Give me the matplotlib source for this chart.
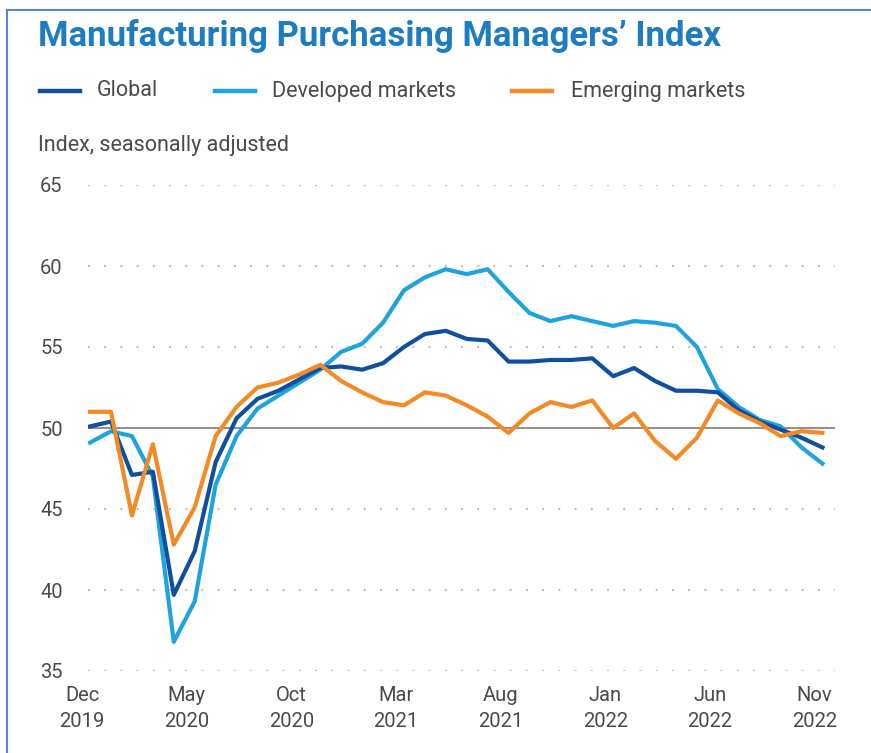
import matplotlib
matplotlib.use("Agg")
import matplotlib.pyplot as plt
from matplotlib.lines import Line2D
import matplotlib.transforms as mtransforms
import numpy as np

# ---------------- data ----------------
months = ["Dec 2019", "Jan 2020", "Feb 2020", "Mar 2020", "Apr 2020", "May 2020", "Jun 2020",
          "Jul 2020", "Aug 2020", "Sep 2020", "Oct 2020", "Nov 2020", "Dec 2020",
          "Jan 2021", "Feb 2021", "Mar 2021", "Apr 2021", "May 2021", "Jun 2021",
          "Jul 2021", "Aug 2021", "Sep 2021", "Oct 2021", "Nov 2021", "Dec 2021",
          "Jan 2022", "Feb 2022", "Mar 2022", "Apr 2022", "May 2022", "Jun 2022",
          "Jul 2022", "Aug 2022", "Sep 2022", "Oct 2022", "Nov 2022"]

global_pmi = [50.1, 50.4, 47.1, 47.3, 39.7, 42.4, 47.9, 50.6, 51.8, 52.3, 53.0, 53.7, 53.8,
              53.6, 54.0, 55.0, 55.8, 56.0, 55.5, 55.4, 54.1, 54.1, 54.2, 54.2, 54.3,
              53.2, 53.7, 52.9, 52.3, 52.3, 52.2, 51.1, 50.4, 49.9, 49.4, 48.8]

developed = [49.1, 49.8, 49.5, 47.0, 36.8, 39.3, 46.5, 49.5, 51.2, 52.0, 52.8, 53.6, 54.7,
             55.2, 56.5, 58.5, 59.3, 59.8, 59.5, 59.8, 58.4, 57.1, 56.6, 56.9, 56.6,
             56.3, 56.6, 56.5, 56.3, 55.0, 52.4, 51.3, 50.5, 50.1, 48.8, 47.8]

emerging = [51.0, 51.0, 44.6, 49.0, 42.8, 45.1, 49.5, 51.3, 52.5, 52.8, 53.3, 53.9, 52.9,
            52.2, 51.6, 51.4, 52.2, 52.0, 51.4, 50.7, 49.7, 50.9, 51.6, 51.3, 51.7,
            50.0, 50.9, 49.2, 48.1, 49.4, 51.7, 50.9, 50.3, 49.5, 49.8, 49.7]

series_names = ["Global", "Developed markets", "Emerging markets"]
series_colors = ["#0f4f9d", "#1fa3dd", "#f48a26"]

xtick_idx = [0, 5, 10, 15, 20, 25, 30, 35]
xtick_labels = ["Dec\n2019", "May\n2020", "Oct\n2020", "Mar\n2021",
                "Aug\n2021", "Jan\n2022", "Jun\n2022", "Nov\n2022"]
yticks = [35, 40, 45, 50, 55, 60, 65]

title = "Manufacturing Purchasing Managers\u2019 Index"
ylabel_note = "Index, seasonally adjusted"

# ---------------- figure ----------------
plt.rcParams["font.family"] = ["Roboto", "DejaVu Sans"]

W, H = 871, 753
fig = plt.figure(figsize=(W / 100, H / 100), dpi=100)
fig.patch.set_facecolor("white")

ax = fig.add_axes([88 / W, 1 - 671 / H, (835 - 88) / W, (671 - 185) / H])
x = np.arange(len(months))

# grid lines (dotted) and 50 reference line
for yv in yticks:
    if yv == 50:
        continue
    ax.axhline(yv, color="#bfbab5", lw=1.6, ls=(0, (0.8, 6.5)), zorder=1)
ax.axhline(50, color="#857a72", lw=1.2, zorder=2)

ax.plot(x, developed, color=series_colors[1], lw=3.0, zorder=3, solid_joinstyle="round")
ax.plot(x, global_pmi, color=series_colors[0], lw=3.0, zorder=4, solid_joinstyle="round")
ax.plot(x, emerging, color=series_colors[2], lw=3.0, zorder=5, solid_joinstyle="round")

ax.set_xlim(-0.1, 35.6)
ax.set_ylim(35, 65)
for s in ax.spines.values():
    s.set_visible(False)
ax.set_xticks(xtick_idx)
ax.set_xticklabels(xtick_labels, fontsize=14.5, color="#4a4a4a", linespacing=1.45)
ax.set_yticks(yticks)
ax.set_yticklabels([str(v) for v in yticks], fontsize=14.5, color="#4a4a4a", ha="left")
ax.tick_params(axis="both", length=0)
ax.tick_params(axis="y", pad=34.5)
ax.tick_params(axis="x", pad=11)

shift = mtransforms.ScaledTranslation(-8 / 100, 0, fig.dpi_scale_trans)
for lab in ax.get_xticklabels():
    lab.set_transform(lab.get_transform() + shift)

# title
fig.text(38 / W, 1 - 36 / H, title, fontsize=25, fontweight="bold", color="#1e7cc0",
         va="center", ha="left")

# legend
leg_y = 1 - 91 / H
items = [(40, 97), (215, 272), (512, 571)]
for (lx, tx), name, c in zip(items, series_names, series_colors):
    fig.add_artist(Line2D([lx / W, (lx + 40) / W], [leg_y, leg_y], color=c, lw=3.2,
                          transform=fig.transFigure))
    fig.text(tx / W, leg_y, name, fontsize=15.5, color="#4a4a4a", va="center", ha="left")

fig.text(38 / W, 1 - 145 / H, ylabel_note, fontsize=15.5, color="#4a4a4a",
         va="center", ha="left")

# blue frame at left and top
fig.add_artist(Line2D([7 / W, 7 / W], [0, 1 - 10 / H], color="#5b86cc", lw=1.5,
                      transform=fig.transFigure))
fig.add_artist(Line2D([7 / W, 1], [1 - 10 / H, 1 - 10 / H], color="#5b86cc", lw=1.5,
                      transform=fig.transFigure))

fig.savefig("out.png", dpi=100, facecolor="white")
